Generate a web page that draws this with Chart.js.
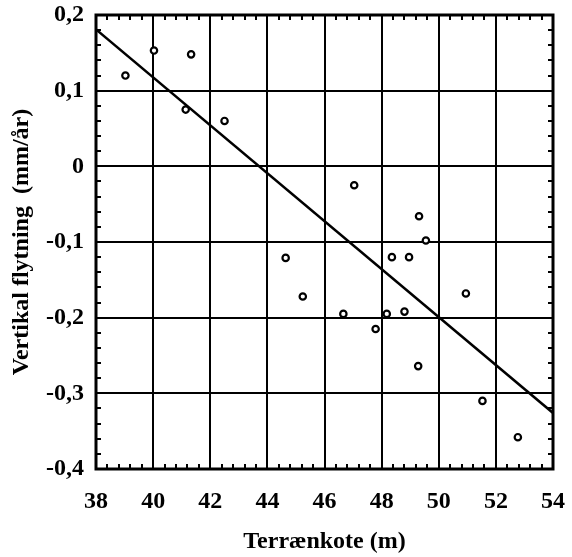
<!DOCTYPE html>
<html>
<head>
<meta charset="utf-8">
<script src="https://cdn.jsdelivr.net/npm/chart.js@4/dist/chart.umd.min.js"></script>
<style>
html,body{margin:0;padding:0;background:#fff;}
#wrap{width:572px;height:557px;}
</style>
</head>
<body>
<div id="wrap"><canvas id="c" width="572" height="557"></canvas></div>
<script>
// Terrænkote (m)
const terrainHeights = [39.03, 40.03, 41.33, 41.14, 42.5, 44.64, 45.24, 46.66, 47.04, 47.79, 48.18, 48.36, 48.80, 48.96, 49.28, 49.31, 49.55, 50.95, 51.53, 52.77];
// Vertikal flytning (mm/år)
const verticalMovement = [0.12, 0.153, 0.148, 0.075, 0.060, -0.121, -0.172, -0.195, -0.025, -0.215, -0.195, -0.12, -0.192, -0.12, -0.264, -0.066, -0.098, -0.168, -0.310, -0.358];
// Regression line end points
const fitX = [38, 54];
const fitY = [0.181, -0.326];
// Axis ranges / ticks
const xRange = [38, 54];
const xStep = 2;
const xMinorStep = 0.4;
const yRange = [-0.4, 0.2];
const yStep = 0.1;
const yMinorStep = 0.02;

const FONT = "'Liberation Serif', 'Times New Roman', serif";

const framePlugin = {
  id: 'frame',
  afterDatasetsDraw(chart) {
    const {ctx, chartArea: a, scales} = chart;
    const xs = scales.x, ys = scales.y;
    ctx.save();
    ctx.strokeStyle = '#000';
    ctx.lineWidth = 2;
    const len = 5;
    const nx = Math.round((xRange[1] - xRange[0]) / xMinorStep);
    for (let i = 1; i < nx; i++) {
      const v = xRange[0] + i * xMinorStep;
      const px = Math.round(xs.getPixelForValue(v));
      ctx.beginPath();
      ctx.moveTo(px, a.bottom); ctx.lineTo(px, a.bottom - len);
      ctx.moveTo(px, a.top); ctx.lineTo(px, a.top + len);
      ctx.stroke();
    }
    const ny = Math.round((yRange[1] - yRange[0]) / yMinorStep);
    for (let i = 1; i < ny; i++) {
      const v = yRange[0] + i * yMinorStep;
      const py = Math.round(ys.getPixelForValue(v));
      ctx.beginPath();
      ctx.moveTo(a.left, py); ctx.lineTo(a.left + len, py);
      ctx.moveTo(a.right, py); ctx.lineTo(a.right - len, py);
      ctx.stroke();
    }
    ctx.lineWidth = 3;
    ctx.strokeRect(a.left, a.top, a.right - a.left, a.bottom - a.top);
    ctx.restore();
  }
};

const points = terrainHeights.map((x, i) => ({x: x, y: verticalMovement[i]}));
const fitLine = fitX.map((x, i) => ({x: x, y: fitY[i]}));

function noPad(s) {
  s.paddingTop = 0; s.paddingBottom = 0; s.paddingLeft = 0; s.paddingRight = 0;
}

new Chart(document.getElementById('c'), {
  type: 'scatter',
  data: {
    datasets: [
      {
        type: 'line',
        data: fitLine,
        borderColor: '#000',
        borderWidth: 2.5,
        pointRadius: 0,
        fill: false,
        order: 2
      },
      {
        data: points,
        pointStyle: 'circle',
        pointRadius: 3.2,
        pointBorderWidth: 2.2,
        pointBorderColor: '#000',
        pointBackgroundColor: '#fff',
        order: 1
      }
    ]
  },
  options: {
    responsive: false,
    animation: false,
    devicePixelRatio: 1,
    layout: {padding: {top: 15, right: 19, bottom: 0, left: 0}},
    plugins: {legend: {display: false}, tooltip: {enabled: false}},
    scales: {
      x: {
        type: 'linear',
        min: xRange[0], max: xRange[1],
        afterFit(s) { s.height = 88; noPad(s); },
        ticks: {
          stepSize: xStep,
          color: '#000',
          padding: 18,
          font: {family: FONT, size: 24, weight: 'bold'},
          maxRotation: 0
        },
        grid: {color: '#000', lineWidth: 2, drawTicks: false},
        border: {display: false},
        title: {
          display: true,
          text: 'Terrænkote (m)',
          color: '#000',
          font: {family: FONT, size: 24, weight: 'bold'},
          padding: {top: 0, bottom: 1}
        }
      },
      y: {
        type: 'linear',
        min: yRange[0], max: yRange[1],
        afterFit(s) { s.width = 96; noPad(s); },
        ticks: {
          stepSize: yStep,
          color: '#000',
          padding: 12,
          font: {family: FONT, size: 24, weight: 'bold'},
          callback(v) {
            const r = Math.round(v * 10) / 10;
            if (r === 0) return '0';
            return r.toFixed(1).replace('.', ',');
          }
        },
        grid: {color: '#000', lineWidth: 2, drawTicks: false},
        border: {display: false},
        title: {
          display: true,
          text: 'Vertikal flytning  (mm/år)',
          color: '#000',
          font: {family: FONT, size: 24, weight: 'bold'},
          padding: {top: 7, bottom: 0}
        }
      }
    }
  },
  plugins: [framePlugin]
});
</script>
</body>
</html>
